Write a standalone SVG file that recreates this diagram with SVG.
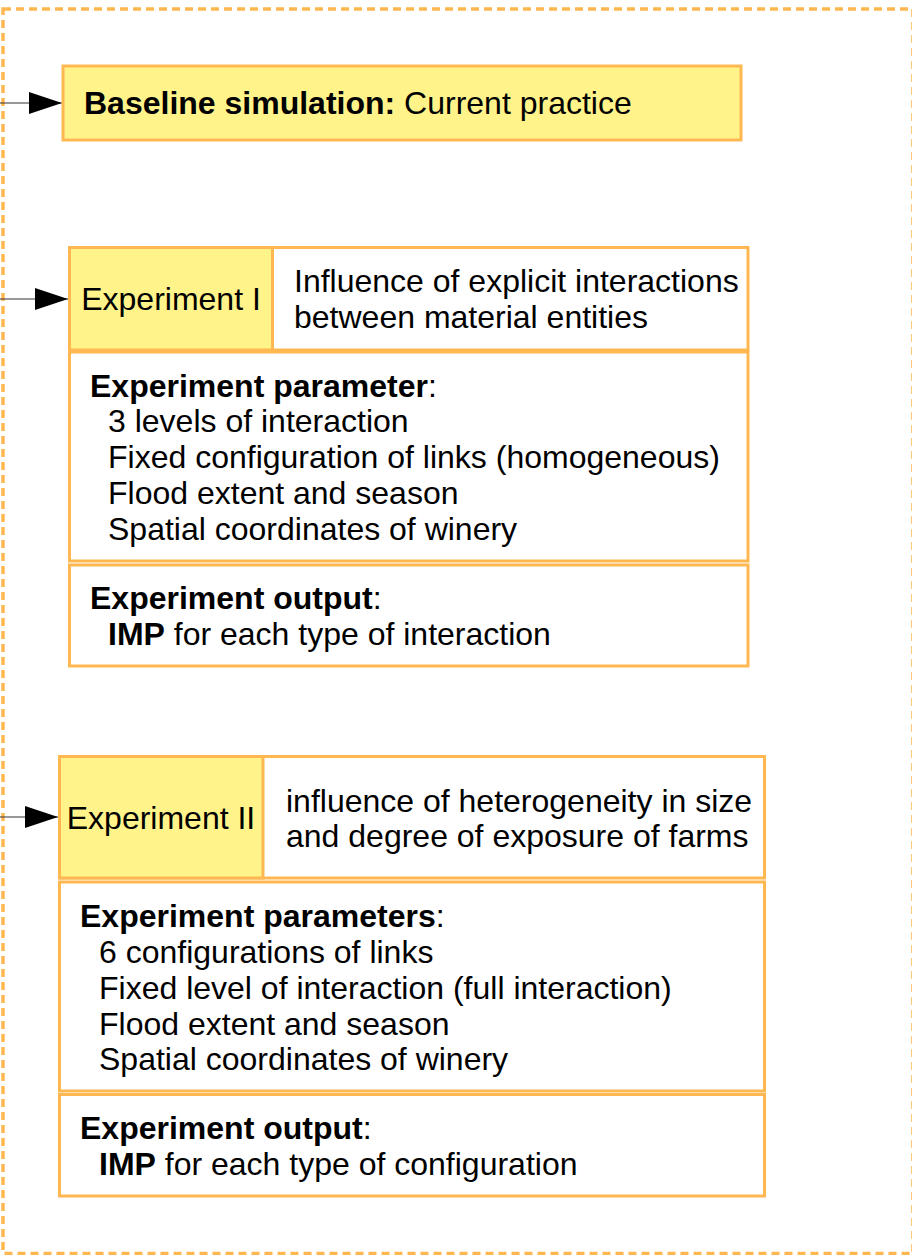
<svg xmlns="http://www.w3.org/2000/svg" width="912" height="1255" viewBox="0 0 912 1255">
  <style>
    .frame { fill: none; stroke: #ffb851; stroke-width: 3.5; stroke-dasharray: 8 5; }
    .cell { fill: #ffffff; stroke: #ffb851; stroke-width: 3; }
    .hl { fill: #fff38a; stroke: #ffb851; stroke-width: 3; }
    .link { stroke: #333333; stroke-width: 1.2; fill: none; }
    text { font-family: "Liberation Sans", Arial, sans-serif; font-size: 32px; fill: #000000; }
    .b { font-weight: bold; }
    .mid { text-anchor: middle; }
  </style>
  <defs>
    <marker id="arrow" markerUnits="userSpaceOnUse" markerWidth="34" markerHeight="22" refX="33" refY="11" orient="auto">
      <path d="M0,0 L33,11 L0,22 Z" fill="#000000"/>
    </marker>
  </defs>

  <!-- outer dashed boundary -->
  <rect class="frame" x="3" y="9" width="910" height="1244.5"/>

  <!-- connectors -->
  <g id="connectors">
    <line class="link" x1="0" y1="103" x2="62" y2="103" marker-end="url(#arrow)"/>
    <line class="link" x1="0" y1="299" x2="68" y2="299" marker-end="url(#arrow)"/>
    <line class="link" x1="0" y1="817" x2="58" y2="817" marker-end="url(#arrow)"/>
  </g>

  <!-- baseline -->
  <g id="baseline">
    <rect class="hl" x="63" y="66" width="678" height="74"/>
    <text x="84" y="114"><tspan class="b">Baseline simulation:</tspan> Current practice</text>
  </g>

  <!-- experiment I -->
  <g id="experiment-1">
    <rect class="cell" x="69.5" y="247.5" width="678.5" height="102.5"/>
    <rect class="hl" x="69.5" y="247.5" width="203" height="102.5"/>
    <text class="mid" x="171" y="310">Experiment I</text>
    <text x="294" y="292">Influence of explicit interactions</text>
    <text x="294" y="328">between material entities</text>

    <rect class="cell" x="69.5" y="352" width="678.5" height="209"/>
    <text x="90" y="397"><tspan class="b">Experiment parameter</tspan>:</text>
    <text x="108" y="432">3 levels of interaction</text>
    <text x="108" y="468">Fixed configuration of links (homogeneous)</text>
    <text x="108" y="504">Flood extent and season</text>
    <text x="108" y="540">Spatial coordinates of winery</text>

    <rect class="cell" x="69.5" y="565" width="678.5" height="101"/>
    <text x="90" y="609"><tspan class="b">Experiment output</tspan>:</text>
    <text x="108" y="645"><tspan class="b">IMP</tspan> for each type of interaction</text>
  </g>

  <!-- experiment II -->
  <g id="experiment-2">
    <rect class="cell" x="59.5" y="756.5" width="705" height="121.5"/>
    <rect class="hl" x="59.5" y="756.5" width="203.5" height="121.5"/>
    <text class="mid" x="161" y="829">Experiment II</text>
    <text x="286" y="812">influence of heterogeneity in size</text>
    <text x="286" y="847">and degree of exposure of farms</text>

    <rect class="cell" x="59.5" y="882" width="705" height="209"/>
    <text x="80" y="927"><tspan class="b">Experiment parameters</tspan>:</text>
    <text x="99" y="963">6 configurations of links</text>
    <text x="99" y="999">Fixed level of interaction (full interaction)</text>
    <text x="99" y="1035">Flood extent and season</text>
    <text x="99" y="1070">Spatial coordinates of winery</text>

    <rect class="cell" x="59.5" y="1094.5" width="705" height="101.5"/>
    <text x="80" y="1139"><tspan class="b">Experiment output</tspan>:</text>
    <text x="99" y="1175"><tspan class="b">IMP</tspan> for each type of configuration</text>
  </g>
</svg>
